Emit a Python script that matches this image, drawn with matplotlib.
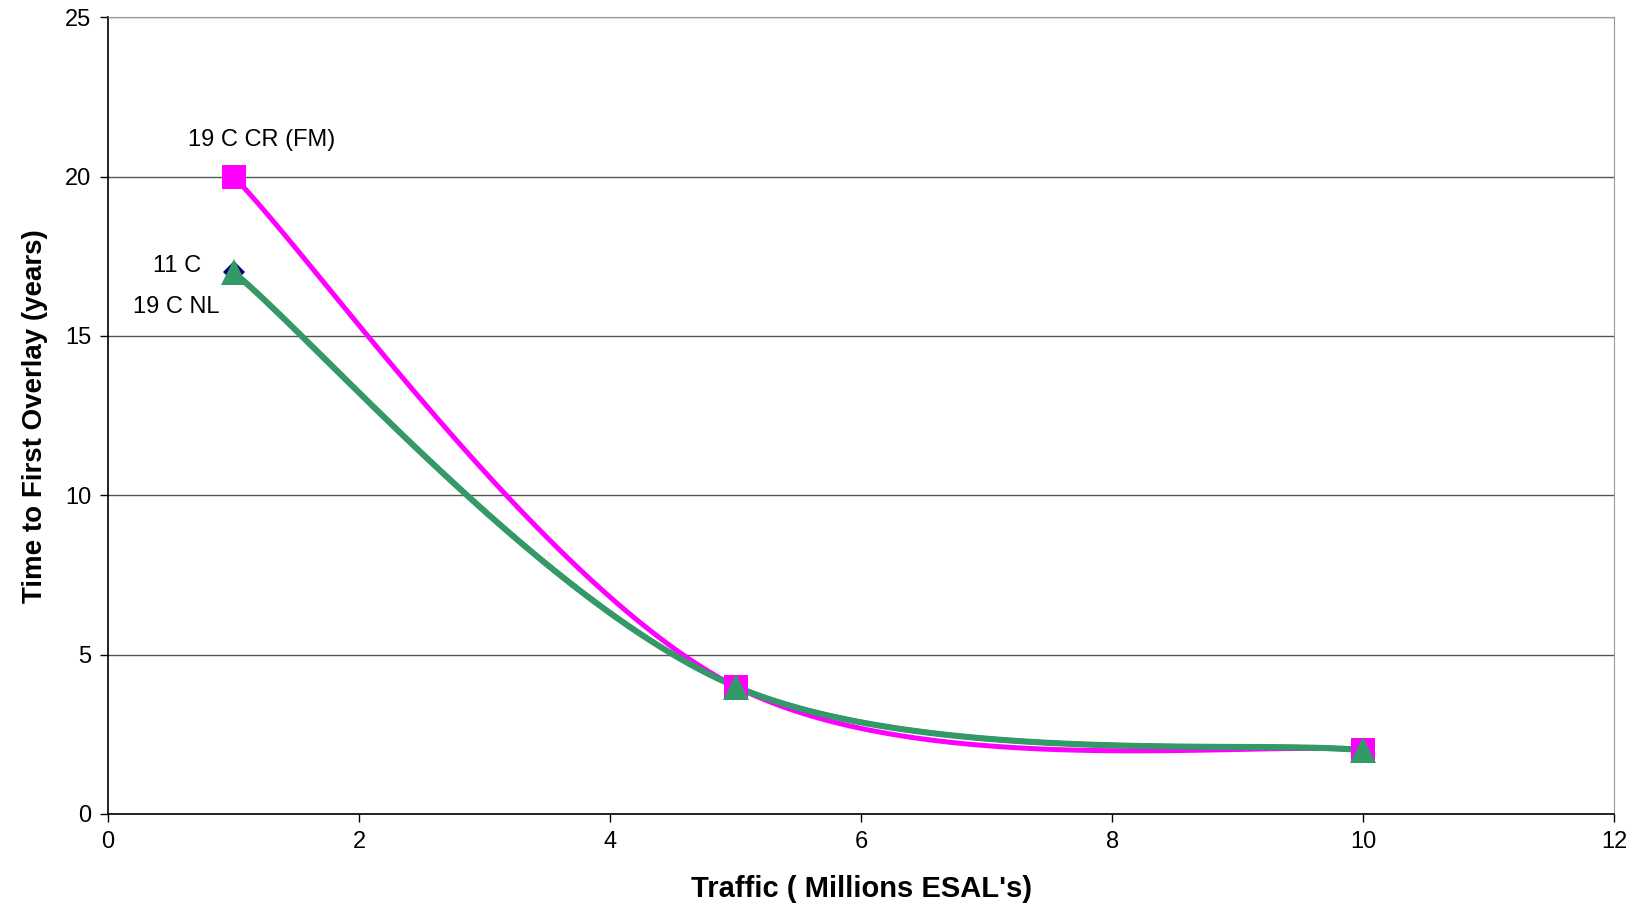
import numpy as np
import matplotlib
matplotlib.use('Agg')
import matplotlib.pyplot as plt

plt.rcParams['font.family'] = ['Liberation Sans', 'DejaVu Sans']

# data
traffic = [1, 5, 10]
t_11c = [17, 4, 2]
t_19c_cr = [20, 4, 2]
t_19c_nl = [17, 4, 2]

x_ticks = [0, 2, 4, 6, 8, 10, 12]
y_ticks = [0, 5, 10, 15, 20, 25]


def smooth_line(x, y, n=60):
    """
    Excel style smoothed line (Catmull-Rom bezier) through the points
    :param x, y: points
    :return: xs, ys
    """
    p = np.column_stack([np.asarray(x, float), np.asarray(y, float)])
    pts = np.vstack([p[0], p, p[-1]])
    out = []
    t = np.linspace(0, 1, n)[:, None]
    for i in range(1, len(pts) - 2):
        p0, p1, p2, p3 = pts[i - 1], pts[i], pts[i + 1], pts[i + 2]
        c1 = p1 + (p2 - p0) / 6.0
        c2 = p2 - (p3 - p1) / 6.0
        seg = ((1 - t) ** 3) * p1 + 3 * ((1 - t) ** 2) * t * c1 + 3 * (1 - t) * t ** 2 * c2 + t ** 3 * p2
        out.append(seg if i == 1 else seg[1:])
    out = np.vstack(out)
    return out[:, 0], out[:, 1]


fig = plt.figure(figsize=(16.42, 9.10), dpi=100)
ax = fig.add_axes([0.0658, 0.1055, 0.9172, 0.8755])

series = [
    (t_11c, '#000080', 'D', 11, 3.6),
    (t_19c_cr, '#ff00ff', 's', 17, 3.6),
    (t_19c_nl, '#339966', '^', 19, 4.4),
]
for ys, col, mk, ms, lw in series:
    sx, sy = smooth_line(traffic, ys)
    ax.plot(sx, sy, color=col, lw=lw, solid_capstyle='round', zorder=3)
    ax.plot(traffic, ys, linestyle='none', marker=mk, markersize=ms,
            color=col, markeredgewidth=0, zorder=4)

ax.set_xlim(0, 12)
ax.set_ylim(0, 25)
ax.set_xticks(x_ticks)
ax.set_yticks(y_ticks)
ax.tick_params(labelsize=17, direction='out', length=6, width=1, pad=6)
ax.yaxis.grid(True, color='#555555', lw=1)
ax.set_axisbelow(True)
for s in ['top', 'right']:
    ax.spines[s].set_color('#999999')
for s in ['left', 'bottom']:
    ax.spines[s].set_color('black')
    ax.spines[s].set_linewidth(1.2)

ax.set_xlabel("Traffic ( Millions ESAL's)", fontsize=21, fontweight='bold', labelpad=16)
ax.set_ylabel('Time to First Overlay (years)', fontsize=20, fontweight='bold', labelpad=12)

ax.annotate('19 C CR (FM)', (traffic[0], t_19c_cr[0]), xytext=(28, 37),
            textcoords='offset pixels', ha='center', va='center', fontsize=17)
ax.annotate('11 C', (traffic[0], t_11c[0]), xytext=(-56, 6),
            textcoords='offset pixels', ha='center', va='center', fontsize=17)
ax.annotate('19 C NL', (traffic[0], t_19c_nl[0]), xytext=(-57, -35),
            textcoords='offset pixels', ha='center', va='center', fontsize=17)

fig.savefig('out.png', dpi=100)
